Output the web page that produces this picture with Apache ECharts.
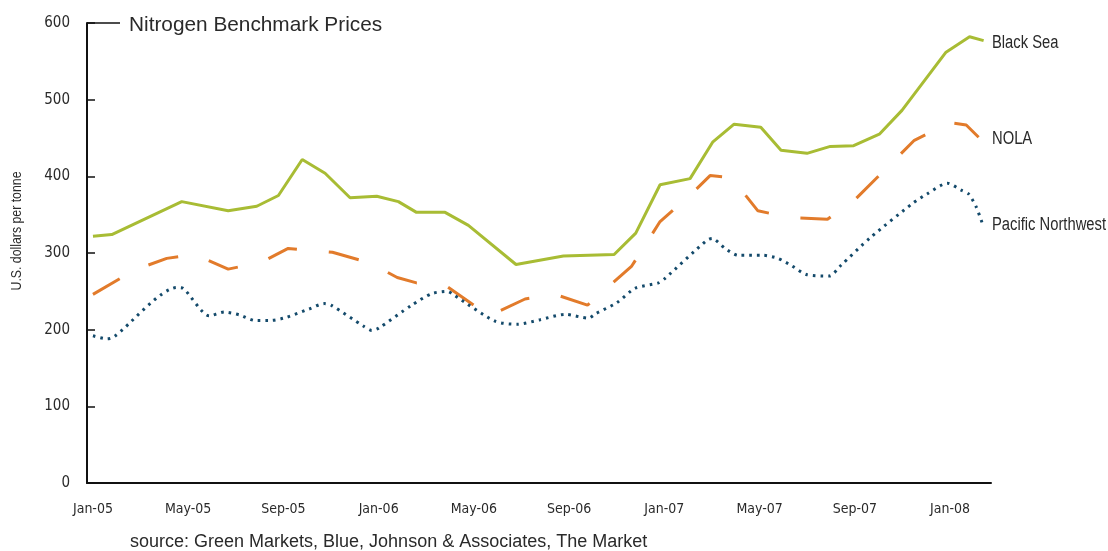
<!DOCTYPE html>
<html>
<head>
<meta charset="utf-8">
<title>Nitrogen Benchmark Prices</title>
<script src="https://cdn.jsdelivr.net/npm/echarts@6/dist/echarts.min.js"></script>
<style>
  html, body { margin: 0; padding: 0; background: #fff; }
  #chart { width: 1108px; height: 551px; }
</style>
</head>
<body>
<div id="chart"></div>
<script>
// x positions are months counted from Jan-05
const xTickMonths = [0, 4, 8, 12, 16, 20, 24, 28, 32, 36]
const xTickLabels = ['Jan-05', 'May-05', 'Sep-05', 'Jan-06', 'May-06', 'Sep-06', 'Jan-07', 'May-07', 'Sep-07', 'Jan-08']

const blackSeaMonths = [0, 0.79, 3.73, 5.68, 6.88, 7.79, 8.79, 9.75, 10.8, 11.92, 12.83, 13.59, 14.79, 15.77, 17.77, 19.76, 21.89, 22.8, 23.82, 25.08, 26.04, 26.93, 28.05, 28.9, 29.99, 30.97, 31.95, 33.03, 33.98, 35.83, 36.82, 37.41]
const blackSeaPrices = [322, 324, 367, 355, 361, 375, 422, 404, 372, 374, 367, 353, 353, 336, 285, 296, 298, 326, 389, 397, 445, 468, 464, 434, 430, 439, 440, 455, 486, 562, 582, 577]

const nolaMonths = [0, 1.76, 3.1, 4.26, 5.68, 7.09, 8.2, 10.06, 11.64, 12.78, 13.59, 14.79, 16.63, 18.15, 19.41, 20.77, 22.63, 23.82, 25.2, 25.92, 26.83, 27.93, 29.33, 30.85, 32.02, 34.5, 36.0, 36.68, 37.2]
const nolaPrices = [246, 278, 293, 298, 279, 288, 306, 301, 287, 268, 261, 258, 218, 240, 246, 232, 283, 341, 379, 401, 398, 355, 346, 344, 370, 447, 470, 467, 451]

const pacificMonths = [0, 0.6, 0.9, 3.53, 3.78, 4.89, 5.52, 6.18, 6.81, 7.47, 8.12, 9.08, 9.71, 10.0, 11.39, 11.71, 12.0, 13.39, 14.23, 14.89, 15.17, 16.89, 17.84, 18.78, 19.83, 20.81, 21.12, 22.0, 22.77, 23.75, 24.03, 25.76, 26.0, 26.55, 27.1, 28.14, 28.77, 29.37, 29.96, 30.93, 31.42, 32.65, 34.44, 35.03, 35.89, 36.47, 36.78, 37.1, 37.35]
const pacificPrices = [192, 188, 191, 255, 254, 218, 223, 219, 212, 212, 216, 227, 234, 232, 204, 199, 202, 232, 247, 250, 245, 211, 207, 213, 220, 215, 221, 235, 254, 261, 267, 316, 319, 306, 297, 297, 293, 283, 272, 270, 284, 320, 365, 377, 391, 382, 377, 360, 339]

const GREEN = '#a8bc34'
const ORANGE = '#e27b2b'
const NAVY = '#144a6b'
const TEXT = '#2a2a2a'
const NARROW = '"Liberation Sans Narrow", "DejaVu Sans Condensed", sans-serif'
const REGULAR = '"Liberation Sans", Arial, Helvetica, sans-serif'

const GRID_LEFT = 87
const GRID_TOP = 23
const X_MIN = -0.25
const X_MAX = 37.72

function pairs(xs, ys) {
  return xs.map((x, i) => [x, ys[i]])
}

// condensed look: regular sans squeezed horizontally
function narrowText(id, x, y, text, size, rotation) {
  return {
    type: 'text',
    id,
    x,
    y,
    rotation: rotation || 0,
    scaleX: 0.82,
    style: {
      text,
      fill: TEXT,
      font: size + 'px ' + REGULAR,
      align: rotation ? 'center' : 'left',
      verticalAlign: 'middle'
    }
  }
}

function buildOption() {
  return {
    animation: false,
    backgroundColor: '#fff',
    title: [
      {
        text: 'Nitrogen Benchmark Prices',
        left: 129,
        top: 15,
        padding: 0,
        textStyle: { color: TEXT, fontFamily: REGULAR, fontSize: 20.8, fontWeight: 'normal' }
      },
      {
        text: 'source: Green Markets, Blue, Johnson & Associates, The Market',
        left: 130,
        top: 533,
        padding: 0,
        textStyle: { color: TEXT, fontFamily: REGULAR, fontSize: 18, fontWeight: 'normal' }
      }
    ],
    grid: {
      left: GRID_LEFT,
      right: 117,
      top: GRID_TOP,
      bottom: 68,
      containLabel: false
    },
    xAxis: {
      type: 'value',
      min: X_MIN,
      max: X_MAX,
      axisLine: { onZero: false, lineStyle: { color: '#111', width: 2 } },
      axisTick: { show: false },
      splitLine: { show: false },
      axisLabel: {
        customValues: xTickMonths,
        formatter: v => xTickLabels[xTickMonths.indexOf(v)] || '',
        color: TEXT,
        fontFamily: NARROW,
        fontSize: 14,
        margin: 19
      }
    },
    yAxis: {
      type: 'value',
      min: 0,
      max: 600,
      interval: 100,
      axisLine: { show: true, onZero: false, lineStyle: { color: '#111', width: 2 } },
      axisTick: { show: true, inside: true, length: 8, lineStyle: { color: '#111', width: 1.5 } },
      splitLine: { show: false },
      axisLabel: {
        color: TEXT,
        fontFamily: NARROW,
        fontSize: 15,
        margin: 17
      }
    },
    graphic: [
      {
        type: 'line',
        id: 'titleRule',
        shape: { x1: GRID_LEFT, y1: GRID_TOP, x2: 120, y2: GRID_TOP },
        style: { stroke: '#111', lineWidth: 1.5 }
      },
      narrowText('yName', 17, 231, 'U.S. dollars per tonne', 15, Math.PI / 2)
    ],
    series: [
      {
        name: 'Black Sea',
        type: 'line',
        data: pairs(blackSeaMonths, blackSeaPrices),
        showSymbol: false,
        lineStyle: { color: GREEN, width: 3 },
        itemStyle: { color: GREEN }
      },
      {
        name: 'NOLA',
        type: 'line',
        data: pairs(nolaMonths, nolaPrices),
        showSymbol: false,
        lineStyle: { color: ORANGE, width: 3, type: [31, 32], cap: 'butt' },
        itemStyle: { color: ORANGE }
      },
      {
        name: 'Pacific Northwest',
        type: 'line',
        data: pairs(pacificMonths, pacificPrices),
        showSymbol: false,
        smooth: 0.25,
        lineStyle: { color: NAVY, width: 3, type: [2.6, 5], cap: 'butt' },
        itemStyle: { color: NAVY }
      }
    ]
  }
}

const chart = echarts.init(document.getElementById('chart'))
chart.setOption(buildOption())

// series names sit just right of the axis end, level with each line's last point
const labelX = chart.convertToPixel({ xAxisIndex: 0 }, X_MAX) + 1
const ends = [
  ['Black Sea', blackSeaPrices],
  ['NOLA', nolaPrices],
  ['Pacific Northwest', pacificPrices]
].map(([name, prices], i) => {
  const y = chart.convertToPixel({ yAxisIndex: 0 }, prices[prices.length - 1]) + 2
  return narrowText('end' + i, labelX, y, name, 18)
})
chart.setOption({ graphic: ends })
</script>
</body>
</html>
